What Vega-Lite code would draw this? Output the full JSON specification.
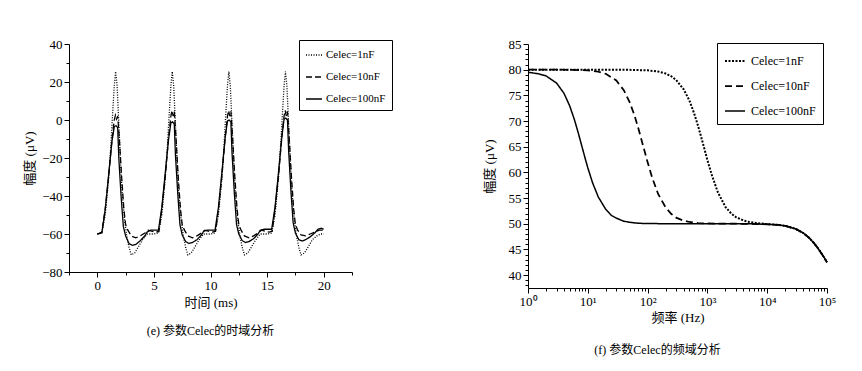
{
  "$schema": "https://vega.github.io/schema/vega-lite/v6.json",
  "background": "white",
  "padding": {"left": 23, "top": 38, "right": 5, "bottom": 5},
  "spacing": 90,
  "resolve": {"scale": {"strokeDash": "independent", "strokeWidth": "independent"}, "legend": {"strokeDash": "independent"}},
  "config": {
    "font": "Liberation Serif, Noto Sans CJK SC",
    "view": {"stroke": null},
    "axis": {
      "grid": false, "domainColor": "black", "tickColor": "black", "labelColor": "black", "titleColor": "black",
      "labelFont": "Liberation Serif", "titleFont": "Liberation Serif, Noto Sans CJK SC",
      "labelFontSize": 13, "titleFontSize": 13, "titleFontWeight": "normal", "labelPadding": 2,
      "labelOverlap": false, "labelFlush": false
    },
    "legend": {
      "labelFont": "Liberation Serif", "labelColor": "black",
      "strokeColor": "black", "fillColor": "white",
      "symbolType": "stroke", "symbolStrokeColor": "black"
    },
    "title": {"font": "Liberation Serif, Noto Sans CJK SC", "fontSize": 12, "fontWeight": "normal", "color": "black"}
  },
  "datasets": {
    "time": [
      {"t":0,"v":-60,"s":"Celec=1nF"},{"t":0.4,"v":-59.5,"s":"Celec=1nF"},{"t":0.7,"v":-50,"s":"Celec=1nF"},{"t":1.0,"v":-31,"s":"Celec=1nF"},{"t":1.2,"v":-13,"s":"Celec=1nF"},{"t":1.35,"v":3,"s":"Celec=1nF"},{"t":1.5,"v":18,"s":"Celec=1nF"},{"t":1.62,"v":25.5,"s":"Celec=1nF"},{"t":1.75,"v":18,"s":"Celec=1nF"},{"t":1.9,"v":-2,"s":"Celec=1nF"},{"t":2.05,"v":-22,"s":"Celec=1nF"},{"t":2.2,"v":-39,"s":"Celec=1nF"},{"t":2.4,"v":-52,"s":"Celec=1nF"},{"t":2.6,"v":-61,"s":"Celec=1nF"},{"t":2.8,"v":-67,"s":"Celec=1nF"},{"t":3.0,"v":-71,"s":"Celec=1nF"},{"t":3.3,"v":-70,"s":"Celec=1nF"},{"t":3.6,"v":-67,"s":"Celec=1nF"},{"t":4.0,"v":-63,"s":"Celec=1nF"},{"t":4.4,"v":-60,"s":"Celec=1nF"},{"t":5.0,"v":-60,"s":"Celec=1nF"},
      {"t":5.4,"v":-59.5,"s":"Celec=1nF"},{"t":5.7,"v":-50,"s":"Celec=1nF"},{"t":6.0,"v":-31,"s":"Celec=1nF"},{"t":6.2,"v":-13,"s":"Celec=1nF"},{"t":6.35,"v":3,"s":"Celec=1nF"},{"t":6.5,"v":18,"s":"Celec=1nF"},{"t":6.62,"v":25.5,"s":"Celec=1nF"},{"t":6.75,"v":18,"s":"Celec=1nF"},{"t":6.9,"v":-2,"s":"Celec=1nF"},{"t":7.05,"v":-22,"s":"Celec=1nF"},{"t":7.2,"v":-39,"s":"Celec=1nF"},{"t":7.4,"v":-52,"s":"Celec=1nF"},{"t":7.6,"v":-61,"s":"Celec=1nF"},{"t":7.8,"v":-67,"s":"Celec=1nF"},{"t":8.0,"v":-71,"s":"Celec=1nF"},{"t":8.3,"v":-70,"s":"Celec=1nF"},{"t":8.6,"v":-67,"s":"Celec=1nF"},{"t":9.0,"v":-63,"s":"Celec=1nF"},{"t":9.4,"v":-60,"s":"Celec=1nF"},{"t":10.0,"v":-60,"s":"Celec=1nF"},
      {"t":10.4,"v":-59.5,"s":"Celec=1nF"},{"t":10.7,"v":-50,"s":"Celec=1nF"},{"t":11.0,"v":-31,"s":"Celec=1nF"},{"t":11.2,"v":-13,"s":"Celec=1nF"},{"t":11.35,"v":3,"s":"Celec=1nF"},{"t":11.5,"v":18,"s":"Celec=1nF"},{"t":11.62,"v":25.5,"s":"Celec=1nF"},{"t":11.75,"v":18,"s":"Celec=1nF"},{"t":11.9,"v":-2,"s":"Celec=1nF"},{"t":12.05,"v":-22,"s":"Celec=1nF"},{"t":12.2,"v":-39,"s":"Celec=1nF"},{"t":12.4,"v":-52,"s":"Celec=1nF"},{"t":12.6,"v":-61,"s":"Celec=1nF"},{"t":12.8,"v":-67,"s":"Celec=1nF"},{"t":13.0,"v":-71,"s":"Celec=1nF"},{"t":13.3,"v":-70,"s":"Celec=1nF"},{"t":13.6,"v":-67,"s":"Celec=1nF"},{"t":14.0,"v":-63,"s":"Celec=1nF"},{"t":14.4,"v":-60,"s":"Celec=1nF"},{"t":15.0,"v":-60,"s":"Celec=1nF"},
      {"t":15.4,"v":-59.5,"s":"Celec=1nF"},{"t":15.7,"v":-50,"s":"Celec=1nF"},{"t":16.0,"v":-31,"s":"Celec=1nF"},{"t":16.2,"v":-13,"s":"Celec=1nF"},{"t":16.35,"v":3,"s":"Celec=1nF"},{"t":16.5,"v":18,"s":"Celec=1nF"},{"t":16.62,"v":25.5,"s":"Celec=1nF"},{"t":16.75,"v":18,"s":"Celec=1nF"},{"t":16.9,"v":-2,"s":"Celec=1nF"},{"t":17.05,"v":-22,"s":"Celec=1nF"},{"t":17.2,"v":-39,"s":"Celec=1nF"},{"t":17.4,"v":-52,"s":"Celec=1nF"},{"t":17.6,"v":-61,"s":"Celec=1nF"},{"t":17.8,"v":-67,"s":"Celec=1nF"},{"t":18.0,"v":-71,"s":"Celec=1nF"},{"t":18.3,"v":-70,"s":"Celec=1nF"},{"t":18.6,"v":-67,"s":"Celec=1nF"},{"t":19.0,"v":-63,"s":"Celec=1nF"},{"t":19.4,"v":-61,"s":"Celec=1nF"},{"t":19.7,"v":-60,"s":"Celec=1nF"},{"t":20.0,"v":-60,"s":"Celec=1nF"},

      {"t":0,"v":-60,"s":"Celec=10nF"},{"t":0.4,"v":-59,"s":"Celec=10nF"},{"t":0.7,"v":-47,"s":"Celec=10nF"},{"t":1.0,"v":-30,"s":"Celec=10nF"},{"t":1.3,"v":-10,"s":"Celec=10nF"},{"t":1.5,"v":0,"s":"Celec=10nF"},{"t":1.6,"v":2.5,"s":"Celec=10nF"},{"t":1.7,"v":0.5,"s":"Celec=10nF"},{"t":1.8,"v":2,"s":"Celec=10nF"},{"t":1.95,"v":-10,"s":"Celec=10nF"},{"t":2.15,"v":-30,"s":"Celec=10nF"},{"t":2.35,"v":-47,"s":"Celec=10nF"},{"t":2.5,"v":-55,"s":"Celec=10nF"},{"t":2.7,"v":-58,"s":"Celec=10nF"},{"t":3.0,"v":-61,"s":"Celec=10nF"},{"t":3.4,"v":-62,"s":"Celec=10nF"},{"t":3.8,"v":-61,"s":"Celec=10nF"},{"t":4.2,"v":-59.5,"s":"Celec=10nF"},{"t":4.5,"v":-58,"s":"Celec=10nF"},{"t":4.8,"v":-58.5,"s":"Celec=10nF"},{"t":5.2,"v":-59,"s":"Celec=10nF"},
      {"t":5.45,"v":-58.5,"s":"Celec=10nF"},{"t":5.7,"v":-47,"s":"Celec=10nF"},{"t":6.0,"v":-30,"s":"Celec=10nF"},{"t":6.3,"v":-9,"s":"Celec=10nF"},{"t":6.5,"v":2,"s":"Celec=10nF"},{"t":6.6,"v":5,"s":"Celec=10nF"},{"t":6.7,"v":2,"s":"Celec=10nF"},{"t":6.8,"v":4.5,"s":"Celec=10nF"},{"t":6.95,"v":-9,"s":"Celec=10nF"},{"t":7.15,"v":-30,"s":"Celec=10nF"},{"t":7.35,"v":-47,"s":"Celec=10nF"},{"t":7.5,"v":-55,"s":"Celec=10nF"},{"t":7.7,"v":-58,"s":"Celec=10nF"},{"t":8.0,"v":-61,"s":"Celec=10nF"},{"t":8.4,"v":-62,"s":"Celec=10nF"},{"t":8.8,"v":-61,"s":"Celec=10nF"},{"t":9.2,"v":-59.5,"s":"Celec=10nF"},{"t":9.5,"v":-58,"s":"Celec=10nF"},{"t":9.8,"v":-58.5,"s":"Celec=10nF"},{"t":10.2,"v":-59,"s":"Celec=10nF"},
      {"t":10.45,"v":-58.5,"s":"Celec=10nF"},{"t":10.7,"v":-47,"s":"Celec=10nF"},{"t":11.0,"v":-30,"s":"Celec=10nF"},{"t":11.3,"v":-9,"s":"Celec=10nF"},{"t":11.5,"v":2,"s":"Celec=10nF"},{"t":11.6,"v":5,"s":"Celec=10nF"},{"t":11.7,"v":2,"s":"Celec=10nF"},{"t":11.8,"v":4.5,"s":"Celec=10nF"},{"t":11.95,"v":-9,"s":"Celec=10nF"},{"t":12.15,"v":-30,"s":"Celec=10nF"},{"t":12.35,"v":-47,"s":"Celec=10nF"},{"t":12.5,"v":-55,"s":"Celec=10nF"},{"t":12.7,"v":-58,"s":"Celec=10nF"},{"t":13.0,"v":-61,"s":"Celec=10nF"},{"t":13.4,"v":-62,"s":"Celec=10nF"},{"t":13.8,"v":-61,"s":"Celec=10nF"},{"t":14.2,"v":-59.5,"s":"Celec=10nF"},{"t":14.5,"v":-58,"s":"Celec=10nF"},{"t":14.8,"v":-58.5,"s":"Celec=10nF"},{"t":15.2,"v":-59,"s":"Celec=10nF"},
      {"t":15.45,"v":-58.5,"s":"Celec=10nF"},{"t":15.7,"v":-47,"s":"Celec=10nF"},{"t":16.0,"v":-30,"s":"Celec=10nF"},{"t":16.3,"v":-9,"s":"Celec=10nF"},{"t":16.5,"v":2,"s":"Celec=10nF"},{"t":16.6,"v":5,"s":"Celec=10nF"},{"t":16.7,"v":2,"s":"Celec=10nF"},{"t":16.8,"v":4.5,"s":"Celec=10nF"},{"t":16.95,"v":-9,"s":"Celec=10nF"},{"t":17.15,"v":-30,"s":"Celec=10nF"},{"t":17.35,"v":-47,"s":"Celec=10nF"},{"t":17.5,"v":-55,"s":"Celec=10nF"},{"t":17.7,"v":-58,"s":"Celec=10nF"},{"t":18.0,"v":-60.5,"s":"Celec=10nF"},{"t":18.4,"v":-61,"s":"Celec=10nF"},{"t":18.8,"v":-60,"s":"Celec=10nF"},{"t":19.2,"v":-59,"s":"Celec=10nF"},{"t":19.6,"v":-58,"s":"Celec=10nF"},{"t":20.0,"v":-58,"s":"Celec=10nF"},

      {"t":0,"v":-60,"s":"Celec=100nF"},{"t":0.4,"v":-59.5,"s":"Celec=100nF"},{"t":0.7,"v":-47,"s":"Celec=100nF"},{"t":1.0,"v":-29,"s":"Celec=100nF"},{"t":1.3,"v":-11,"s":"Celec=100nF"},{"t":1.5,"v":-3.5,"s":"Celec=100nF"},{"t":1.65,"v":-3,"s":"Celec=100nF"},{"t":1.8,"v":-4,"s":"Celec=100nF"},{"t":1.9,"v":-20,"s":"Celec=100nF"},{"t":2.1,"v":-40,"s":"Celec=100nF"},{"t":2.3,"v":-56,"s":"Celec=100nF"},{"t":2.5,"v":-61,"s":"Celec=100nF"},{"t":2.8,"v":-65,"s":"Celec=100nF"},{"t":3.1,"v":-66,"s":"Celec=100nF"},{"t":3.4,"v":-65.5,"s":"Celec=100nF"},{"t":3.8,"v":-63.5,"s":"Celec=100nF"},{"t":4.2,"v":-61,"s":"Celec=100nF"},{"t":4.4,"v":-59,"s":"Celec=100nF"},{"t":4.7,"v":-58,"s":"Celec=100nF"},{"t":5.0,"v":-58,"s":"Celec=100nF"},{"t":5.4,"v":-58,"s":"Celec=100nF"},
      {"t":5.7,"v":-46,"s":"Celec=100nF"},{"t":6.0,"v":-28,"s":"Celec=100nF"},{"t":6.3,"v":-10,"s":"Celec=100nF"},{"t":6.5,"v":-1.5,"s":"Celec=100nF"},{"t":6.65,"v":-1,"s":"Celec=100nF"},{"t":6.8,"v":-2,"s":"Celec=100nF"},{"t":6.9,"v":-18,"s":"Celec=100nF"},{"t":7.1,"v":-38,"s":"Celec=100nF"},{"t":7.3,"v":-55,"s":"Celec=100nF"},{"t":7.5,"v":-60.5,"s":"Celec=100nF"},{"t":7.8,"v":-64,"s":"Celec=100nF"},{"t":8.1,"v":-65,"s":"Celec=100nF"},{"t":8.4,"v":-64.5,"s":"Celec=100nF"},{"t":8.8,"v":-63,"s":"Celec=100nF"},{"t":9.2,"v":-60.5,"s":"Celec=100nF"},{"t":9.4,"v":-58.5,"s":"Celec=100nF"},{"t":9.7,"v":-58,"s":"Celec=100nF"},{"t":10.0,"v":-58,"s":"Celec=100nF"},{"t":10.4,"v":-58,"s":"Celec=100nF"},
      {"t":10.7,"v":-46,"s":"Celec=100nF"},{"t":11.0,"v":-28,"s":"Celec=100nF"},{"t":11.3,"v":-9,"s":"Celec=100nF"},{"t":11.5,"v":-0.5,"s":"Celec=100nF"},{"t":11.65,"v":0,"s":"Celec=100nF"},{"t":11.8,"v":-1,"s":"Celec=100nF"},{"t":11.9,"v":-17,"s":"Celec=100nF"},{"t":12.1,"v":-38,"s":"Celec=100nF"},{"t":12.3,"v":-55,"s":"Celec=100nF"},{"t":12.5,"v":-60,"s":"Celec=100nF"},{"t":12.8,"v":-63.5,"s":"Celec=100nF"},{"t":13.1,"v":-64.5,"s":"Celec=100nF"},{"t":13.4,"v":-64,"s":"Celec=100nF"},{"t":13.8,"v":-62.5,"s":"Celec=100nF"},{"t":14.2,"v":-60,"s":"Celec=100nF"},{"t":14.4,"v":-58,"s":"Celec=100nF"},{"t":14.7,"v":-57.5,"s":"Celec=100nF"},{"t":15.0,"v":-57.5,"s":"Celec=100nF"},{"t":15.4,"v":-57.5,"s":"Celec=100nF"},
      {"t":15.7,"v":-46,"s":"Celec=100nF"},{"t":16.0,"v":-28,"s":"Celec=100nF"},{"t":16.3,"v":-9,"s":"Celec=100nF"},{"t":16.5,"v":0.5,"s":"Celec=100nF"},{"t":16.65,"v":1,"s":"Celec=100nF"},{"t":16.8,"v":0,"s":"Celec=100nF"},{"t":16.9,"v":-16,"s":"Celec=100nF"},{"t":17.1,"v":-37,"s":"Celec=100nF"},{"t":17.3,"v":-54,"s":"Celec=100nF"},{"t":17.5,"v":-59.5,"s":"Celec=100nF"},{"t":17.8,"v":-63,"s":"Celec=100nF"},{"t":18.1,"v":-63.7,"s":"Celec=100nF"},{"t":18.4,"v":-63,"s":"Celec=100nF"},{"t":18.8,"v":-61.5,"s":"Celec=100nF"},{"t":19.2,"v":-59.5,"s":"Celec=100nF"},{"t":19.5,"v":-57.5,"s":"Celec=100nF"},{"t":19.8,"v":-57,"s":"Celec=100nF"},{"t":20.0,"v":-57.5,"s":"Celec=100nF"}
    ],
    "freq": [
      {"f":1,"v":80,"s":"Celec=1nF"},{"f":3,"v":80,"s":"Celec=1nF"},{"f":10,"v":80,"s":"Celec=1nF"},{"f":30,"v":79.99,"s":"Celec=1nF"},{"f":50,"v":79.97,"s":"Celec=1nF"},{"f":100,"v":79.87,"s":"Celec=1nF"},{"f":150,"v":79.63,"s":"Celec=1nF"},{"f":200,"v":79.26,"s":"Celec=1nF"},{"f":250,"v":78.7,"s":"Celec=1nF"},{"f":300,"v":78.0,"s":"Celec=1nF"},{"f":400,"v":76.2,"s":"Celec=1nF"},{"f":500,"v":74.0,"s":"Celec=1nF"},{"f":600,"v":71.5,"s":"Celec=1nF"},{"f":700,"v":69.0,"s":"Celec=1nF"},{"f":800,"v":66.6,"s":"Celec=1nF"},{"f":900,"v":64.4,"s":"Celec=1nF"},{"f":1000,"v":62.4,"s":"Celec=1nF"},{"f":1200,"v":59.3,"s":"Celec=1nF"},{"f":1500,"v":56.1,"s":"Celec=1nF"},{"f":2000,"v":53.3,"s":"Celec=1nF"},{"f":2500,"v":52.0,"s":"Celec=1nF"},{"f":3000,"v":51.3,"s":"Celec=1nF"},{"f":4000,"v":50.65,"s":"Celec=1nF"},{"f":5000,"v":50.35,"s":"Celec=1nF"},{"f":7000,"v":50.1,"s":"Celec=1nF"},{"f":10000,"v":49.95,"s":"Celec=1nF"},{"f":15000,"v":49.8,"s":"Celec=1nF"},{"f":20000,"v":49.6,"s":"Celec=1nF"},{"f":30000,"v":49.0,"s":"Celec=1nF"},{"f":40000,"v":48.2,"s":"Celec=1nF"},{"f":50000,"v":47.3,"s":"Celec=1nF"},{"f":60000,"v":46.3,"s":"Celec=1nF"},{"f":70000,"v":45.3,"s":"Celec=1nF"},{"f":80000,"v":44.3,"s":"Celec=1nF"},{"f":90000,"v":43.4,"s":"Celec=1nF"},{"f":100000,"v":42.5,"s":"Celec=1nF"},
      {"f":1,"v":80,"s":"Celec=10nF"},{"f":3,"v":80,"s":"Celec=10nF"},{"f":5,"v":79.98,"s":"Celec=10nF"},{"f":10,"v":79.86,"s":"Celec=10nF"},{"f":15,"v":79.6,"s":"Celec=10nF"},{"f":20,"v":79.2,"s":"Celec=10nF"},{"f":30,"v":77.9,"s":"Celec=10nF"},{"f":40,"v":76.0,"s":"Celec=10nF"},{"f":50,"v":73.7,"s":"Celec=10nF"},{"f":60,"v":71.2,"s":"Celec=10nF"},{"f":70,"v":68.6,"s":"Celec=10nF"},{"f":85,"v":65,"s":"Celec=10nF"},{"f":100,"v":62.0,"s":"Celec=10nF"},{"f":120,"v":58.9,"s":"Celec=10nF"},{"f":150,"v":55.8,"s":"Celec=10nF"},{"f":200,"v":53.2,"s":"Celec=10nF"},{"f":250,"v":51.9,"s":"Celec=10nF"},{"f":300,"v":51.2,"s":"Celec=10nF"},{"f":400,"v":50.6,"s":"Celec=10nF"},{"f":500,"v":50.35,"s":"Celec=10nF"},{"f":700,"v":50.15,"s":"Celec=10nF"},{"f":1000,"v":50.07,"s":"Celec=10nF"},{"f":2000,"v":50.02,"s":"Celec=10nF"},{"f":5000,"v":50.0,"s":"Celec=10nF"},{"f":10000,"v":49.9,"s":"Celec=10nF"},{"f":15000,"v":49.8,"s":"Celec=10nF"},{"f":20000,"v":49.6,"s":"Celec=10nF"},{"f":30000,"v":49.0,"s":"Celec=10nF"},{"f":40000,"v":48.2,"s":"Celec=10nF"},{"f":50000,"v":47.3,"s":"Celec=10nF"},{"f":60000,"v":46.3,"s":"Celec=10nF"},{"f":70000,"v":45.3,"s":"Celec=10nF"},{"f":80000,"v":44.3,"s":"Celec=10nF"},{"f":90000,"v":43.4,"s":"Celec=10nF"},{"f":100000,"v":42.5,"s":"Celec=10nF"},
      {"f":1,"v":79.5,"s":"Celec=100nF"},{"f":1.5,"v":79.2,"s":"Celec=100nF"},{"f":2,"v":78.8,"s":"Celec=100nF"},{"f":3,"v":77.4,"s":"Celec=100nF"},{"f":4,"v":75.4,"s":"Celec=100nF"},{"f":5,"v":72.9,"s":"Celec=100nF"},{"f":6,"v":70.2,"s":"Celec=100nF"},{"f":7,"v":67.5,"s":"Celec=100nF"},{"f":8,"v":65,"s":"Celec=100nF"},{"f":9,"v":62.8,"s":"Celec=100nF"},{"f":10,"v":60.9,"s":"Celec=100nF"},{"f":12,"v":58.0,"s":"Celec=100nF"},{"f":15,"v":55.2,"s":"Celec=100nF"},{"f":20,"v":52.8,"s":"Celec=100nF"},{"f":25,"v":51.6,"s":"Celec=100nF"},{"f":30,"v":51.1,"s":"Celec=100nF"},{"f":40,"v":50.5,"s":"Celec=100nF"},{"f":50,"v":50.3,"s":"Celec=100nF"},{"f":70,"v":50.1,"s":"Celec=100nF"},{"f":100,"v":50.05,"s":"Celec=100nF"},{"f":300,"v":50.0,"s":"Celec=100nF"},{"f":1000,"v":50.0,"s":"Celec=100nF"},{"f":5000,"v":50.0,"s":"Celec=100nF"},{"f":10000,"v":49.9,"s":"Celec=100nF"},{"f":15000,"v":49.8,"s":"Celec=100nF"},{"f":20000,"v":49.6,"s":"Celec=100nF"},{"f":30000,"v":49.0,"s":"Celec=100nF"},{"f":40000,"v":48.2,"s":"Celec=100nF"},{"f":50000,"v":47.3,"s":"Celec=100nF"},{"f":60000,"v":46.3,"s":"Celec=100nF"},{"f":70000,"v":45.3,"s":"Celec=100nF"},{"f":80000,"v":44.3,"s":"Celec=100nF"},{"f":90000,"v":43.4,"s":"Celec=100nF"},{"f":100000,"v":42.5,"s":"Celec=100nF"}
    ]
  },
  "hconcat": [
    {
      "width": 283, "height": 228,
      "title": {"text": "(e) 参数Celec的时域分析", "orient": "bottom", "offset": 17},
      "data": {"name": "time"},
      "mark": {"type": "line", "color": "black", "strokeWidth": 1.3},
      "encoding": {
        "x": {"field": "t", "type": "quantitative",
          "scale": {"domain": [-2.5, 22.5], "nice": false, "zero": false},
          "axis": {"title": "时间 (ms)", "titlePadding": 4,
            "values": [-2.5, 0, 2.5, 5, 7.5, 10, 12.5, 15, 17.5, 20, 22.5],
            "labelExpr": "datum.value % 5 === 0 ? datum.label : ''",
            "tickSize": {"condition": {"test": "datum.value % 5 === 0", "value": 5}, "value": 3}}},
        "y": {"field": "v", "type": "quantitative",
          "scale": {"domain": [-80, 40], "nice": false, "zero": false},
          "axis": {"title": "幅度 (μV)", "titlePadding": 5,
            "values": [-80, -70, -60, -50, -40, -30, -20, -10, 0, 10, 20, 30, 40],
            "labelExpr": "datum.value % 20 === 0 ? datum.label : ''",
            "tickSize": {"condition": {"test": "datum.value % 20 === 0", "value": 5}, "value": 3}}},
        "strokeDash": {"field": "s", "type": "nominal",
          "scale": {"domain": ["Celec=1nF", "Celec=10nF", "Celec=100nF"], "range": [[1, 1.5], [6, 3], [1, 0]]},
          "legend": {"title": null, "orient": "none", "legendX": 230, "legendY": -4, "symbolSize": 256, "symbolStrokeWidth": 1.3,
            "labelFontSize": 11, "padding": 6, "rowPadding": 8, "labelOffset": 3}}
      }
    },
    {
      "width": 299, "height": 244,
      "title": {"text": "(f) 参数Celec的频域分析", "orient": "bottom", "offset": 21, "dx": -20},
      "data": {"name": "freq"},
      "mark": {"type": "line", "color": "black"},
      "encoding": {
        "x": {"field": "f", "type": "quantitative",
          "scale": {"type": "log", "domain": [1, 100000], "nice": false},
          "axis": {"title": "频率 (Hz)", "titlePadding": 3,
            "values": [1,2,3,4,5,6,7,8,9,10,20,30,40,50,60,70,80,90,100,200,300,400,500,600,700,800,900,1000,2000,3000,4000,5000,6000,7000,8000,9000,10000,20000,30000,40000,50000,60000,70000,80000,90000,100000],
            "labelExpr": "datum.value == 1 ? '10⁰' : datum.value == 10 ? '10¹' : datum.value == 100 ? '10²' : datum.value == 1000 ? '10³' : datum.value == 10000 ? '10⁴' : datum.value == 100000 ? '10⁵' : ''",
            "tickSize": {"condition": {"test": "indexof([1,10,100,1000,10000,100000], datum.value) >= 0", "value": 5}, "value": 3}}},
        "y": {"field": "v", "type": "quantitative",
          "scale": {"domain": [37.5, 85], "nice": false, "zero": false},
          "axis": {"title": "幅度 (μV)", "titlePadding": 12,
            "values": [38,39,40,41,42,43,44,45,46,47,48,49,50,51,52,53,54,55,56,57,58,59,60,61,62,63,64,65,66,67,68,69,70,71,72,73,74,75,76,77,78,79,80,81,82,83,84,85],
            "labelExpr": "datum.value % 5 === 0 ? datum.label : ''",
            "tickSize": {"condition": {"test": "datum.value % 5 === 0", "value": 5}, "value": 3}}},
        "strokeDash": {"field": "s", "type": "nominal",
          "scale": {"domain": ["Celec=1nF", "Celec=10nF", "Celec=100nF"], "range": [[2, 1.5], [7, 4], [1, 0]]},
          "legend": {"title": null, "orient": "none", "legendX": 189, "legendY": -1, "symbolSize": 400, "symbolStrokeWidth": 1.6,
            "labelFontSize": 12, "padding": 7, "rowPadding": 8, "labelOffset": 5}},
        "strokeWidth": {"field": "s", "type": "nominal",
          "scale": {"domain": ["Celec=1nF", "Celec=10nF", "Celec=100nF"], "range": [2, 1.5, 1.5]},
          "legend": null}
      }
    }
  ]
}
